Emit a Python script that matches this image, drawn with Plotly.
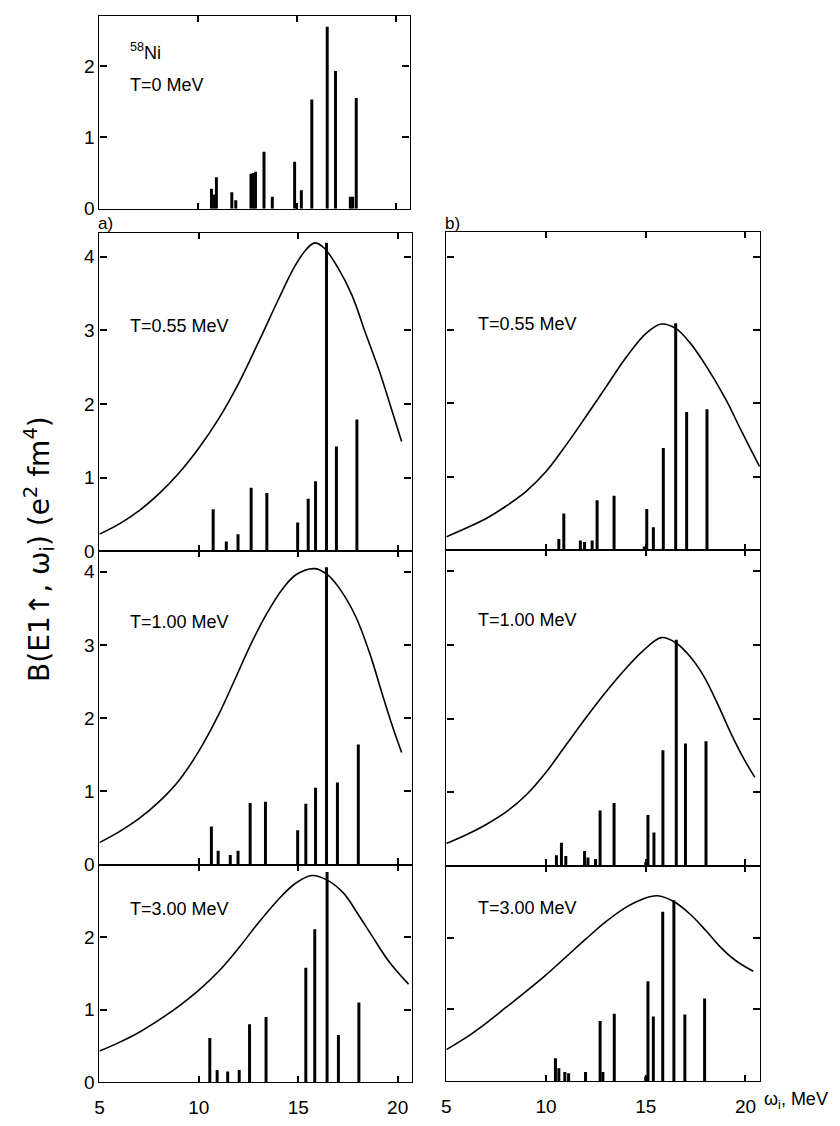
import plotly.graph_objects as go

# ---------------- data ----------------
# T = 0 MeV (top panel)
t0_bar_x = [10.67, 10.8, 10.92, 11.7, 11.9, 12.67, 12.8, 12.9, 13.33, 13.75, 14.88, 15.22, 15.75, 16.53, 16.95, 17.7, 17.82, 18.0]
t0_bar_y = [0.28, 0.20, 0.44, 0.23, 0.12, 0.49, 0.50, 0.52, 0.80, 0.17, 0.66, 0.26, 1.53, 2.55, 1.93, 0.17, 0.17, 1.55]

# column a)
a1_bar_x = [10.72, 11.38, 11.97, 12.63, 13.42, 14.97, 15.5, 15.87, 16.42, 16.92, 17.95]
a1_bar_y = [0.57, 0.13, 0.23, 0.86, 0.79, 0.39, 0.71, 0.95, 4.19, 1.42, 1.79]
a1_cur_x = [5.0, 6.0, 7.0, 8.0, 9.0, 10.0, 11.0, 12.0, 13.0, 14.0, 14.8, 15.4, 15.83, 16.3, 17.0, 17.7, 18.4, 19.1, 19.7, 20.2]
a1_cur_y = [0.23, 0.37, 0.55, 0.78, 1.06, 1.40, 1.80, 2.28, 2.84, 3.42, 3.86, 4.10, 4.19, 4.12, 3.85, 3.48, 2.95, 2.43, 1.92, 1.49]

a2_bar_x = [10.63, 10.97, 11.58, 11.97, 12.58, 13.35, 14.97, 15.38, 15.87, 16.42, 16.97, 18.02]
a2_bar_y = [0.52, 0.19, 0.13, 0.19, 0.84, 0.86, 0.47, 0.83, 1.05, 4.06, 1.12, 1.64]
a2_cur_x = [5.0, 6.0, 7.0, 8.0, 9.0, 10.0, 11.0, 11.8, 12.6, 13.4, 14.2, 14.9, 15.83, 16.5, 17.2, 17.9, 18.6, 19.2, 19.7, 20.2]
a2_cur_y = [0.30, 0.45, 0.63, 0.86, 1.15, 1.55, 2.05, 2.52, 3.00, 3.42, 3.76, 3.96, 4.04, 3.95, 3.72, 3.38, 2.88, 2.35, 1.92, 1.53]

a3_bar_x = [10.55, 10.92, 11.45, 12.03, 12.55, 13.38, 15.38, 15.83, 16.45, 17.02, 18.05]
a3_bar_y = [0.61, 0.17, 0.15, 0.17, 0.80, 0.90, 1.58, 2.11, 2.90, 0.65, 1.10]
a3_cur_x = [5.0, 6.0, 7.0, 8.0, 9.0, 10.0, 11.0, 12.0, 13.0, 14.0, 14.8, 15.67, 16.5, 17.3, 18.0, 18.75, 19.6, 20.55]
a3_cur_y = [0.43, 0.55, 0.69, 0.86, 1.05, 1.27, 1.53, 1.85, 2.20, 2.52, 2.73, 2.85, 2.78, 2.60, 2.32, 2.00, 1.65, 1.35]

# column b)
b1_bar_x = [10.64, 10.89, 11.72, 11.93, 12.31, 12.56, 13.41, 14.92, 15.05, 15.38, 15.88, 16.5, 17.05, 18.07]
b1_bar_y = [0.15, 0.50, 0.13, 0.11, 0.13, 0.68, 0.74, 0.05, 0.56, 0.31, 1.39, 3.09, 1.88, 1.92]
b1_cur_x = [5.0, 6.0, 7.0, 8.0, 9.0, 10.0, 11.0, 12.0, 13.0, 14.0, 15.0, 15.78, 16.5, 17.2, 18.0, 19.0, 19.8, 20.7]
b1_cur_y = [0.18, 0.30, 0.43, 0.60, 0.80, 1.07, 1.43, 1.82, 2.22, 2.62, 2.95, 3.08, 3.02, 2.83, 2.52, 2.06, 1.62, 1.14]

b2_bar_x = [10.52, 10.77, 10.99, 11.93, 12.1, 12.48, 12.71, 13.41, 15.0, 15.11, 15.41, 15.86, 16.53, 16.99, 18.02]
b2_bar_y = [0.14, 0.31, 0.13, 0.20, 0.11, 0.09, 0.75, 0.85, 0.05, 0.69, 0.45, 1.57, 3.07, 1.66, 1.69]
b2_cur_x = [5.0, 6.0, 7.0, 8.0, 9.0, 10.0, 11.0, 12.0, 13.0, 14.0, 14.9, 15.78, 16.5, 17.2, 17.9, 18.6, 19.3, 19.9, 20.47]
b2_cur_y = [0.30, 0.42, 0.56, 0.73, 0.96, 1.27, 1.64, 2.01, 2.36, 2.68, 2.93, 3.10, 3.03, 2.85, 2.58, 2.20, 1.78, 1.46, 1.20]

b3_bar_x = [10.47, 10.64, 10.94, 11.13, 11.98, 12.71, 12.85, 13.42, 15.0, 15.11, 15.38, 15.85, 16.41, 16.96, 17.95]
b3_bar_y = [0.32, 0.18, 0.13, 0.11, 0.13, 0.84, 0.13, 0.94, 0.07, 1.39, 0.90, 2.36, 2.52, 0.93, 1.15]
b3_cur_x = [5.0, 6.0, 7.0, 8.0, 9.0, 10.0, 11.0, 12.0, 13.0, 14.0, 14.8, 15.58, 16.4, 17.24, 18.0, 18.73, 19.5, 20.39]
b3_cur_y = [0.44, 0.61, 0.81, 1.03, 1.25, 1.48, 1.73, 1.98, 2.22, 2.42, 2.53, 2.58, 2.50, 2.32, 2.10, 1.87, 1.68, 1.53]

x_ticks = [5, 10, 15, 20]
temp_labels = ["T=0.55 MeV", "T=1.00 MeV", "T=3.00 MeV"]

# ---------------- layout helpers ----------------
W, H, OFF = 824, 1110, 8
def px(p):
    return (p - OFF) / W
def py(p):
    return 1 - (p - OFF) / H

FONT = "Liberation Sans"
fig = go.Figure()

panels = [
    (t0_bar_x, t0_bar_y, None, None, (95, 407), (16, 211), 2.7, [0, 1, 2], True, False),
    (a1_bar_x, a1_bar_y, a1_cur_x, a1_cur_y, (95, 409), (235, 557), 4.33, [0, 1, 2, 3, 4], True, False),
    (a2_bar_x, a2_bar_y, a2_cur_x, a2_cur_y, (95, 409), (557, 874), 4.28, [0, 1, 2, 3, 4], True, False),
    (a3_bar_x, a3_bar_y, a3_cur_x, a3_cur_y, (95, 409), (874, 1094), 3.0, [0, 1, 2], True, True),
    (b1_bar_x, b1_bar_y, b1_cur_x, b1_cur_y, (444, 760), (234, 556), 4.34, [0, 1, 2, 3, 4], False, False),
    (b2_bar_x, b2_bar_y, b2_cur_x, b2_cur_y, (444, 760), (556, 875), 4.29, [0, 1, 2, 3, 4], False, False),
    (b3_bar_x, b3_bar_y, b3_cur_x, b3_cur_y, (444, 760), (875, 1093), 3.0, [0, 1, 2], False, True),
]

layout_axes = {}
for i, (bx, by, cx, cy, xp, yp, ymax, yt, showy, showx) in enumerate(panels):
    n = i + 1
    xa = "x" if n == 1 else f"x{n}"
    ya = "y" if n == 1 else f"y{n}"
    xr = [5, 20.75] if xp[0] > 400 else [5, 20.7]
    fig.add_trace(go.Bar(x=bx, y=by, width=0.15, marker=dict(color="black", line=dict(width=0)),
                         xaxis=xa, yaxis=ya, showlegend=False))
    if cx is not None:
        fig.add_trace(go.Scatter(x=cx, y=cy, mode="lines",
                                 line=dict(color="black", width=1.6, shape="spline", smoothing=1.0),
                                 xaxis=xa, yaxis=ya, showlegend=False))
    xkey = "xaxis" if n == 1 else f"xaxis{n}"
    ykey = "yaxis" if n == 1 else f"yaxis{n}"
    layout_axes[xkey] = dict(domain=[px(xp[0]), px(xp[1])], range=xr, anchor=ya,
                             showline=True, linecolor="black", linewidth=1.4, mirror="ticks",
                             ticks="inside", ticklen=6, tickwidth=1.5, tickcolor="black",
                             tickvals=x_ticks, ticktext=[str(v) for v in x_ticks],
                             showticklabels=showx, ticklabelstandoff=8, showgrid=False, zeroline=False,
                             tickfont=dict(family=FONT, size=19, color="black"), fixedrange=True)
    layout_axes[ykey] = dict(domain=[py(yp[1]), py(yp[0])], range=[0, ymax], anchor=xa,
                             showline=True, linecolor="black", linewidth=1.4, mirror="ticks",
                             ticks="inside", ticklen=7, tickwidth=1.5, tickcolor="black",
                             tickvals=yt, ticktext=[str(v) for v in yt],
                             showticklabels=showy, showgrid=False, zeroline=False,
                             tickfont=dict(family=FONT, size=19, color="black"), fixedrange=True)

fig.update_layout(**layout_axes)

ann = []
def text(x, y, s, size=18, anchor="left", angle=0, family=FONT):
    ann.append(dict(x=px(x), y=py(y), xref="paper", yref="paper", text=s, showarrow=False,
                    xanchor=anchor, yanchor="middle", textangle=angle,
                    font=dict(family=family, size=size, color="black")))

text(124, 52, "<sup>58</sup>Ni", 18)
text(124, 86, "T=0 MeV", 18)
text(92, 226, "a)", 17)
text(441, 226, "b)", 17)
text(124, 329, temp_labels[0])
text(124, 629, temp_labels[1])
text(124, 919, temp_labels[2])
text(474, 327, temp_labels[0])
text(474, 627, temp_labels[1])
text(474, 918, temp_labels[2])
text(762, 1112, "ω<sub>i</sub>, MeV", 18)
text(34, 555, "B(E1↑, ω<sub>i</sub>) (e<sup>2</sup> fm<sup>4</sup>)", 28, anchor="center", angle=-90,
     family="DejaVu Sans")

fig.update_layout(width=W, height=H, margin=dict(l=0, r=0, t=0, b=0),
                  paper_bgcolor="white", plot_bgcolor="white", annotations=ann,
                  barmode="overlay", font=dict(family=FONT, color="black"))

fig.write_html("out.html")
